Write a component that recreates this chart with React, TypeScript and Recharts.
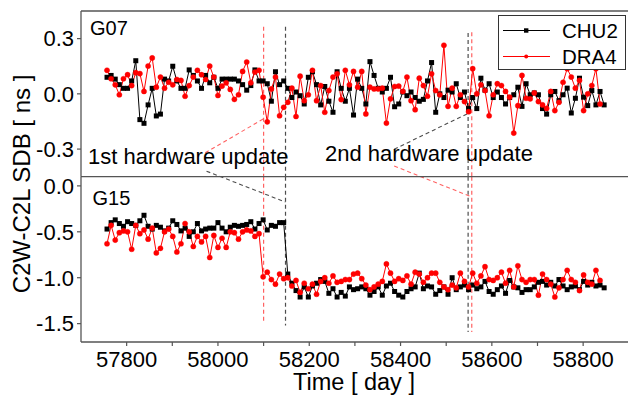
import React from 'react';
import { LineChart, Line, XAxis, YAxis, ReferenceLine, Legend } from 'recharts';

const FONT = '"Liberation Sans", Arial, Helvetica, sans-serif';
const AXIS_COLOR = '#555555';
const CHU2_COLOR = '#000000';
const DRA4_COLOR = '#ff0000';
const RED_DASH = '#ff6262';
const GRAY_DASH = '#4d4d4d';

// MJD of each sample
const days = [
  57757, 57766, 57775, 57784, 57793, 57802, 57811, 57820, 57829, 57838,
  57847, 57856, 57865, 57874, 57883, 57892, 57901, 57910, 57919, 57928,
  57937, 57946, 57955, 57964, 57973, 57982, 57991, 58000, 58009, 58018,
  58027, 58036, 58045, 58054, 58063, 58072, 58081, 58090, 58099, 58108,
  58117, 58126, 58135, 58144, 58153, 58162, 58171, 58180, 58189, 58198,
  58207, 58216, 58225, 58234, 58243, 58252, 58261, 58270, 58279, 58288,
  58297, 58306, 58315, 58324, 58333, 58342, 58351, 58360, 58369, 58378,
  58387, 58396, 58405, 58414, 58423, 58432, 58441, 58450, 58459, 58468,
  58477, 58486, 58495, 58504, 58513, 58522, 58531, 58540, 58549, 58558,
  58567, 58576, 58585, 58594, 58603, 58612, 58621, 58630, 58639, 58648,
  58657, 58666, 58675, 58684, 58693, 58702, 58711, 58720, 58729, 58738,
  58747, 58756, 58765, 58774, 58783, 58792, 58801, 58810, 58819, 58828,
  58837, 58846,
];

// G07 C2W-C2L SDB [ns]
const g07Chu2 = [
  0.09, 0.1, 0.08, 0.05, 0.03, 0.03, 0.07, 0.18, -0.14, -0.16,
  -0.06, 0.03, -0.12, -0.11, 0.08, 0.07, 0.15, 0.07, 0.03, 0.03,
  0.13, 0.1, 0.07, 0.03, 0.1, 0.06, 0.09, 0.03, 0.08, 0.08,
  0.08, 0.08, 0.07, 0.05, 0.02, 0.045, 0.13, 0.07, 0.07, 0.055,
  -0.04, 0.12, 0.05, 0.07, 0.03, -0.02, 0.01, -0.01, -0.055, 0.09,
  0.12, 0.05, -0.06, 0.04, -0.04, -0.1, 0.12, 0.03, -0.04, 0.03,
  -0.115, 0.08, 0.03, -0.055, 0.175, 0.1, 0.03, 0.01, 0.03, 0.09,
  -0.07, -0.055, 0.01, -0.01, 0.01, -0.02, -0.04, -0.03, 0.07, 0.17,
  -0.1, 0.0, -0.02, 0.02, 0.01, 0.055, -0.02, 0.01, -0.08, -0.02,
  -0.08, 0.085, 0.02, 0.055, -0.02, 0.01, -0.02, -0.055, -0.02, -0.005,
  0.036, -0.068, 0.055, -0.005, 0.005, -0.005, -0.08, -0.11, -0.005, 0.013,
  -0.037, -0.005, 0.031, -0.104, -0.024, 0.085, -0.018, -0.064, 0.018, -0.06,
  0.013, -0.06,
];

const g07Dra4 = [
  0.128, 0.082, 0.049, -0.005, 0.082, 0.104, 0.045, 0.115, 0.11, 0.013,
  0.151, 0.195, 0.036, 0.091, 0.031, 0.063, 0.049, 0.078, 0.073, -0.013,
  0.045, 0.091, 0.128, 0.104, 0.078, 0.151, 0.091, -0.009, 0.042, 0.06,
  0.024, -0.03, -0.005, 0.122, 0.173, 0.06, 0.118, 0.128, -0.018, -0.152,
  0.027, 0.091, -0.119, -0.073, -0.046, 0.031, -0.123, 0.096, -0.037, -0.005,
  0.128, -0.037, 0.045, -0.1, 0.018, 0.091, 0.109, -0.031, 0.128, 0.049,
  0.122, 0.036, 0.122, -0.109, 0.036, 0.027, 0.027, 0.031, -0.159, -0.027,
  0.04, 0.042, 0.013, 0.091, -0.037, -0.086, 0.085, 0.045, -0.013, 0.109,
  0.018, -0.005, 0.264, -0.068, 0.031, -0.068, -0.005, -0.042, -0.097, 0.137,
  0.0, 0.049, 0.018, -0.119, -0.005, 0.055, 0.045, 0.013, -0.018, -0.213,
  -0.064, 0.1, -0.024, -0.027, 0.005, -0.042, -0.06, -0.079, 0.013, -0.091,
  -0.046, 0.063, 0.137, 0.091, 0.031, 0.073, -0.091, 0.0, 0.045, 0.137,
  -0.055, null,
];

// G15 C2W-C2L SDB [ns]
const g15Chu2 = [
  -0.47, -0.4, -0.37, -0.41, -0.44, -0.39, -0.41, -0.43, -0.38, -0.32,
  -0.44, -0.47, -0.43, -0.45, -0.49, -0.46, -0.38, -0.42, -0.49, -0.46,
  -0.55, -0.5, -0.41, -0.49, -0.47, -0.46, -0.46, -0.4, -0.46, -0.5,
  -0.45, -0.43, -0.44, -0.43, -0.42, -0.39, -0.47, -0.41, -0.37, -0.48,
  -0.43, -0.44, -0.4, -0.4, -0.96, -1.06, -1.14, -1.21, -1.1, -1.21,
  -1.09, -1.06, -1.02, -1.04, -1.17, -1.12, -1.21, -1.16, -1.2, -1.1,
  -1.13, -1.12, -1.1, -1.12, -1.19, -1.15, -1.1, -1.19, -1.09, -1.06,
  -1.15, -1.19, -1.21, -1.15, -1.12, -1.1, -0.95, -1.12, -1.09, -1.1,
  -1.18, -1.14, -1.1, -1.18, -1.0, -1.13, -1.1, -1.08, -1.13, -1.08,
  -1.12, -1.1, -1.04, -1.15, -1.18, -1.13, -1.09, -1.17, -1.03, -1.1,
  -1.11, -1.16, -1.13, -1.13, -1.1, -1.05, -1.04, -1.08, -1.05, -1.09,
  -1.02, -1.09, -1.13, -1.1, -1.09, -1.13, -1.04, -1.08, -1.05, -1.09,
  -1.08, -1.11,
];

const g15Dra4 = [
  -0.63, -0.43, -0.59, -0.51, -0.49, -0.5, -0.69, -0.43, -0.52, -0.48,
  -0.58, -0.46, -0.73, -0.68, -0.5, -0.47, -0.55, -0.72, -0.63, -0.41,
  -0.5, -0.66, -0.55, -0.61, -0.55, -0.78, -0.54, -0.67, -0.57, -0.67,
  -0.5, -0.51, -0.58, -0.5, -0.48, -0.49, -0.55, -0.52, -0.99, -0.94,
  -1.02, -1.07, -0.96, -1.01, -1.0, -1.09, -1.03, -1.16, -1.06, -1.12,
  -1.07, -1.18, -1.04, -1.0, -1.06, -0.98, -1.05, -1.04, -1.02, -1.02,
  -0.96, -0.95, -1.01, -1.08, -1.13, -1.1, -1.07, -1.04, -0.85, -0.95,
  -1.04, -1.01, -1.03, -0.98, -1.07, -0.94, -0.96, -1.05, -1.0, -0.95,
  -0.95, -1.05, -1.1, -1.13, -1.08, -1.11, -0.95, -1.04, -1.1, -0.95,
  -1.06, -0.98, -0.88, -1.02, -1.03, -1.0, -0.94, -1.06, -0.92, -1.1,
  -0.87, -1.02, -1.05, -1.02, -1.02, -1.19, -0.96, -1.02, -1.07, -1.21,
  -1.11, -1.02, -0.92, -1.02, -1.05, -1.14, -0.97, -1.05, -1.07, -0.92,
  -1.03, null,
];

const xTicks = [57800, 57900, 58000, 58100, 58200, 58300, 58400, 58500, 58600, 58700, 58800];
const g07Ticks = [-0.3, 0, 0.3];
const g15Ticks = [-1.5, -1.0, -0.5, 0];

const g07Data = days.map((day, i) => ({ day, CHU2: g07Chu2[i], DRA4: g07Dra4[i] }));
const g15Data = days.map((day, i) => ({ day, CHU2: g15Chu2[i], DRA4: g15Dra4[i] }));

// hardware update epochs (vertical markers) and how far they reach in each panel
const updateLines = [
  { day: 58100, color: RED_DASH, g07Top: 0.365, g15Bottom: -1.5 },
  { day: 58148, color: GRAY_DASH, g07Top: 0.365, g15Bottom: -1.52 },
  { day: 58548, color: GRAY_DASH, g07Top: 0.33, g15Bottom: -1.59 },
  { day: 58556, color: RED_DASH, g07Top: 0.335, g15Bottom: -1.59 },
];

// leader lines from the labels to the markers, in G07 axis units
const pointers = [
  { x1: 58099, y1: -0.137, x2: 57972, y2: -0.32, color: RED_DASH },
  { x1: 57975, y1: -0.42, x2: 58148, y2: -0.588, color: GRAY_DASH },
  { x1: 58386, y1: -0.301, x2: 58548, y2: -0.106, color: GRAY_DASH },
  { x1: 58386, y1: -0.392, x2: 58556, y2: -0.56, color: RED_DASH },
];

const CHART_W = 640;
const TOP_H = 215;
const BOTTOM_H = 397;
const X_DOMAIN: [number, number] = [57700, 58900];

const squareDot = (props: any) => {
  const { cx, cy, index } = props;
  if (cx == null || cy == null) return <g key={`sq-${index}`} />;
  return <rect key={`sq-${index}`} x={cx - 2.5} y={cy - 2.5} width={5} height={5} fill={CHU2_COLOR} />;
};

const circleDot = { r: 2.6, fill: DRA4_COLOR, stroke: DRA4_COLOR, strokeWidth: 0.4 };
const tickStyle = { fill: '#000', fontSize: 22, fontFamily: FONT };
const axisLine = { stroke: AXIS_COLOR, strokeWidth: 1.3 };
const tickLine = { stroke: AXIS_COLOR, strokeWidth: 1.2 };

const renderLegend = () => (
  <svg width={128} height={55} style={{ display: 'block' }}>
    <rect x={0.5} y={0.5} width={127} height={54} fill="#fff" stroke="#333" />
    <line x1={5} x2={52} y1={15.5} y2={15.5} stroke={CHU2_COLOR} strokeWidth={1} />
    <rect x={26} y={13.3} width={4.4} height={4.4} fill={CHU2_COLOR} />
    <text x={64} y={15.5} dy="0.36em" fontSize={20.5} fontFamily={FONT} fill="#000">CHU2</text>
    <line x1={5} x2={52} y1={41.5} y2={41.5} stroke={DRA4_COLOR} strokeWidth={1} />
    <circle cx={28.2} cy={41.5} r={2} fill={DRA4_COLOR} />
    <text x={64} y={41.5} dy="0.36em" fontSize={20.5} fontFamily={FONT} fill="#000">DRA4</text>
  </svg>
);

function SdbChart() {
  return (
    <div
      style={{
        position: 'fixed',
        left: 0,
        top: 0,
        width: 628,
        height: 397,
        overflow: 'hidden',
        background: '#fff',
      }}
    >
      {/* G15 panel */}
      <div style={{ position: 'absolute', left: 0, top: 0 }}>
        <LineChart
          width={CHART_W}
          height={BOTTOM_H}
          data={g15Data}
          margin={{ top: 176.7, right: 11.2, bottom: 25, left: 0 }}
        >
          <XAxis
            type="number"
            dataKey="day"
            domain={X_DOMAIN}
            allowDataOverflow
            ticks={xTicks}
            interval={0}
            height={30}
            tickSize={4}
            tickMargin={5.5}
            tickFormatter={(v: number) => (v % 200 === 0 ? String(v) : '')}
            tick={tickStyle}
            axisLine={axisLine}
            tickLine={tickLine}
          />
          <YAxis
            domain={[-1.7, 0.1]}
            allowDataOverflow
            ticks={g15Ticks}
            interval={0}
            width={81}
            tickSize={4}
            tickMargin={3}
            tickFormatter={(v: number) => v.toFixed(1)}
            tick={tickStyle}
            axisLine={axisLine}
            tickLine={tickLine}
          />
          {updateLines.map((u) => (
            <ReferenceLine
              key={`g15-${u.day}`}
              segment={[
                { x: u.day, y: 0.1 },
                { x: u.day, y: u.g15Bottom },
              ]}
              stroke={u.color}
              strokeWidth={1.2}
              strokeDasharray="4 3"
              ifOverflow="visible"
            />
          ))}
          <Line
            type="linear"
            dataKey="CHU2"
            stroke={CHU2_COLOR}
            strokeWidth={1}
            dot={squareDot}
            activeDot={false}
            isAnimationActive={false}
          />
          <Line
            type="linear"
            dataKey="DRA4"
            stroke={DRA4_COLOR}
            strokeWidth={1}
            dot={circleDot}
            activeDot={false}
            isAnimationActive={false}
          />
        </LineChart>
      </div>

      {/* G07 panel */}
      <div style={{ position: 'absolute', left: 0, top: 0 }}>
        <LineChart
          width={CHART_W}
          height={TOP_H}
          data={g07Data}
          margin={{ top: 10, right: 11.2, bottom: TOP_H - 176.7 - 5, left: 0 }}
        >
          <XAxis
            type="number"
            dataKey="day"
            domain={X_DOMAIN}
            allowDataOverflow
            ticks={xTicks}
            interval={0}
            height={5}
            tickSize={3.5}
            tick={false}
            axisLine={axisLine}
            tickLine={tickLine}
          />
          <XAxis
            xAxisId="frame"
            orientation="top"
            type="number"
            dataKey="day"
            domain={X_DOMAIN}
            allowDataOverflow
            height={1}
            tick={false}
            tickLine={false}
            axisLine={axisLine}
          />
          <YAxis
            domain={[-0.45, 0.45]}
            allowDataOverflow
            ticks={g07Ticks}
            interval={0}
            width={81}
            tickSize={4}
            tickMargin={3}
            tickFormatter={(v: number) => v.toFixed(1)}
            tick={tickStyle}
            axisLine={axisLine}
            tickLine={tickLine}
          />
          {updateLines.map((u) => (
            <ReferenceLine
              key={`g07-${u.day}`}
              segment={[
                { x: u.day, y: u.g07Top },
                { x: u.day, y: -0.45 },
              ]}
              stroke={u.color}
              strokeWidth={1.2}
              strokeDasharray="4 3"
              ifOverflow="visible"
            />
          ))}
          {pointers.map((p, i) => (
            <ReferenceLine
              key={`ptr-${i}`}
              segment={[
                { x: p.x1, y: p.y1 },
                { x: p.x2, y: p.y2 },
              ]}
              stroke={p.color}
              strokeWidth={1.1}
              strokeDasharray="4 3"
              ifOverflow="visible"
            />
          ))}
          <Line
            type="linear"
            dataKey="CHU2"
            stroke={CHU2_COLOR}
            strokeWidth={1}
            dot={squareDot}
            activeDot={false}
            isAnimationActive={false}
          />
          <Line
            type="linear"
            dataKey="DRA4"
            stroke={DRA4_COLOR}
            strokeWidth={1}
            dot={circleDot}
            activeDot={false}
            isAnimationActive={false}
          />
          <Legend
            layout="horizontal"
            verticalAlign="middle"
            align="center"
            wrapperStyle={{ position: 'absolute', left: 497.7, top: 14.7, width: 128, height: 55 }}
            content={renderLegend}
          />
        </LineChart>
      </div>

      {/* panel names, annotations and axis titles */}
      <svg
        width={628}
        height={397}
        style={{ position: 'absolute', left: 0, top: 0, pointerEvents: 'none' }}
        fontFamily={FONT}
      >
        <text x={90} y={35} fontSize={20} fill="#000">G07</text>
        <text x={92.5} y={205} fontSize={20} fill="#000">G15</text>
        <text x={88} y={163.5} fontSize={22} fill="#000">1st hardware update</text>
        <text x={325} y={160.5} fontSize={22} fill="#000">2nd hardware update</text>
        <text transform="translate(29.5,184) rotate(-90)" textAnchor="middle" fontSize={24} fill="#000">
          C2W-C2L SDB [ ns ]
        </text>
        <text x={354} y={390} textAnchor="middle" fontSize={23.5} fill="#000">
          Time [ day ]
        </text>
      </svg>
    </div>
  );
}

export default function App() {
  return <SdbChart />;
}
